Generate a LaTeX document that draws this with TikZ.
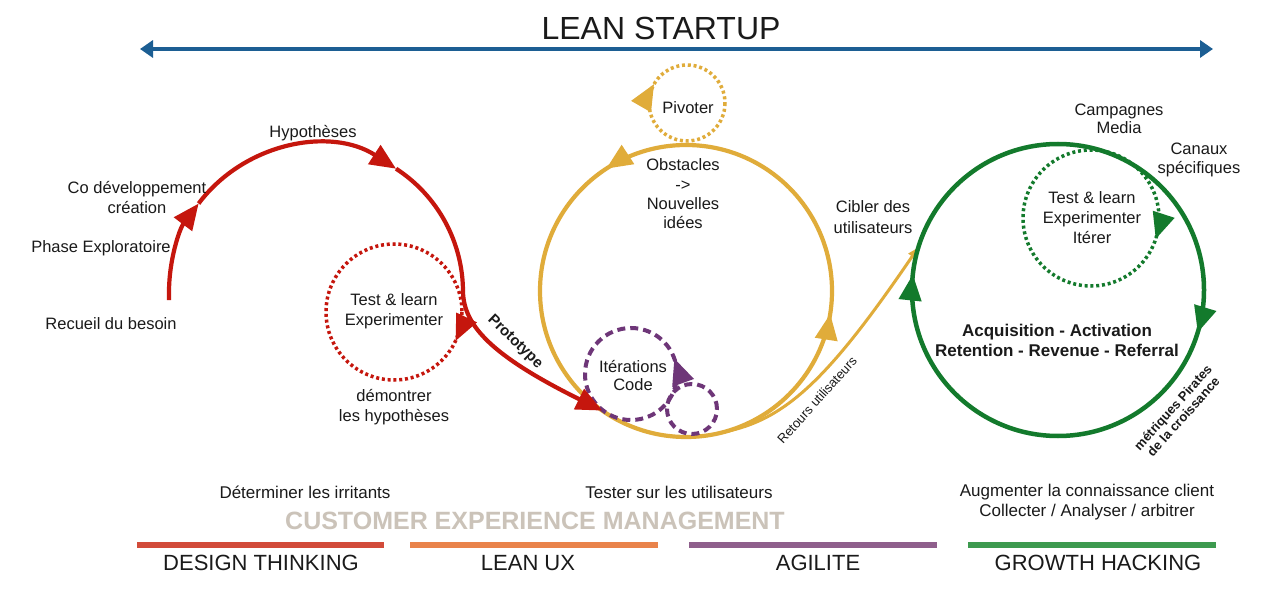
\documentclass[tikz,border=0pt]{standalone}
\usepackage{fontspec}
\setmainfont{Liberation Sans}
\usetikzlibrary{arrows.meta,decorations.markings}
\definecolor{cRed}{RGB}{197,22,13}
\definecolor{cYel}{RGB}{224,172,58}
\definecolor{cGrn}{RGB}{19,122,44}
\definecolor{cPur}{RGB}{110,54,120}
\definecolor{cBlue}{RGB}{28,94,147}
\definecolor{cTxt}{RGB}{26,26,26}
\definecolor{cGrey}{RGB}{203,195,185}
\definecolor{bRed}{RGB}{210,75,58}
\definecolor{bOra}{RGB}{233,131,75}
\definecolor{bPur}{RGB}{143,95,140}
\definecolor{bGrn}{RGB}{61,154,79}
\tikzset{
  Tri/.tip={Triangle[length=26pt,width=22pt]},
  lbl/.style={inner sep=0pt, align=center, text=cTxt, font=\fontsize{16.5}{20}\selectfont},
  boldlbl/.style={lbl, font=\fontsize{17}{20}\selectfont\bfseries},
  biglbl/.style={inner sep=0pt, text=cTxt, font=\fontsize{22}{26}\selectfont},
  mainline/.style={line width=4.2pt},
  dotline/.style={line width=3.5pt, dash pattern=on 3pt off 2.8pt},
  dashline/.style={line width=4pt, dash pattern=on 8pt off 5pt},
  arrowat/.style={postaction={solid, decorate, decoration={markings, mark=at position #1 with {\arrow{Tri}}}}},
  bar/.style={line width=6pt},
}
\begin{document}
\begin{tikzpicture}[x=1pt,y=1pt]
\useasboundingbox (0,0) rectangle (1285,-604);
\fill[white] (0,0) rectangle (1285,-604);

% ---- title and top arrow
\node[inner sep=0pt, text=cTxt, font=\fontsize{32}{38}\selectfont] (title) at (661,-28) {LEAN STARTUP};
\coordinate (tl) at (140,-49);
\coordinate (tr) at (1213,-49);
\draw[cBlue, line width=4pt, {Triangle[length=13pt,width=17pt]}-{Triangle[length=13pt,width=17pt]}] (tl) -- (tr);

% ---- centres
\coordinate (rC) at (316,-292);
\coordinate (R2) at (394,-312);
\coordinate (Y) at (686,-291);
\coordinate (Pv) at (687,-103);
\coordinate (P1) at (631,-374);
\coordinate (P2) at (692,-409);
\coordinate (G) at (1058,-290);
\coordinate (G2) at (1091,-218);
\coordinate (rS) at (169,-300);
\coordinate (yIn) at ([shift={(235:146)}]Y);
\coordinate (yOut) at ([shift={(285:146)}]Y);
\coordinate (gIn) at ([shift={(163:146)}]G);

% ---- yellow section
\draw[cYel, mainline, arrowat=0.342, arrowat=0.975] ([shift={(0:146)}]Y) arc[start angle=0, end angle=360, radius=146];
\draw[cYel, dotline, arrowat=0.583] ([shift={(0:38)}]Pv) arc[start angle=0, end angle=-360, radius=38];
\draw[cYel, line width=3pt, -{Triangle[length=11pt,width=9pt]}] (yOut) .. controls (785,-420) and (828,-380) .. (gIn);

% ---- purple
\draw[cPur, dashline, arrowat=0.055] ([shift={(0:46)}]P1) arc[start angle=0, end angle=360, radius=46];
\draw[cPur, dashline] (P2) circle[radius=25];

% ---- red section
\draw[cRed, mainline, -Tri] (rS) -- (169,-292) arc[start angle=180, end angle=143, radius=147];
\draw[cRed, mainline, -Tri] ([shift={(143:147)}]rC) arc[start angle=143, end angle=57, radius=147];
\draw[cRed, mainline, -Tri] ([shift={(57:147)}]rC) arc[start angle=57, end angle=0, radius=147] .. controls (464,-325) and (490,-355) .. (yIn);
\draw[cRed, dotline, arrowat=0.07] ([shift={(0:68)}]R2) arc[start angle=0, end angle=-360, radius=68];

% ---- green section
\draw[cGrn, line width=4.5pt, arrowat=0.047, arrowat=0.517] ([shift={(0:146)}]G) arc[start angle=0, end angle=-360, radius=146];
\draw[cGrn, dotline, arrowat=0.05] ([shift={(0:68)}]G2) arc[start angle=0, end angle=-360, radius=68];

% ---- labels red
\node[lbl] (hyp) at (313,-133) {Hypothèses};
\node[lbl] (codev) at (137,-198) {Co développement\\création};
\node[lbl] (phase) at (101,-248) {Phase Exploratoire};
\node[lbl] (recueil) at (111,-324) {Recueil du besoin};
\node[lbl] (test1) at (394,-311) {Test \& learn\\Experimenter};
\node[lbl] (demo) at (394,-407) {démontrer\\les hypothèses};
\node[lbl, font=\fontsize{15}{18}\selectfont\bfseries, rotate=-44] (proto) at (515,-342) {Prototype};

% ---- labels yellow
\node[lbl] (pivot) at (688,-108) {Pivoter};
\node[lbl, font=\fontsize{16.5}{19.3}\selectfont] (obst) at (683,-194) {Obstacles\\->\\Nouvelles\\idées};
\node[lbl, font=\fontsize{16.5}{18}\selectfont] (iter) at (633,-376) {Itérations\\Code};
\node[lbl, font=\fontsize{16.5}{21}\selectfont] (cibler) at (873,-217) {Cibler des\\utilisateurs};
\node[lbl, font=\fontsize{13}{15}\selectfont, rotate=48] (retours) at (817,-400) {Retours utilisateurs};

% ---- labels green
\node[lbl, font=\fontsize{16.5}{18}\selectfont] (camp) at (1119,-119) {Campagnes\\Media};
\node[lbl, font=\fontsize{16.5}{19}\selectfont] (canaux) at (1199,-160) {Canaux\\spécifiques};
\node[lbl] (test2) at (1092,-218) {Test \& learn\\Experimenter\\Itérer};
\node[boldlbl] (aarrr) at (1057,-340) {Acquisition - Activation\\Retention - Revenue - Referral};
\node[lbl, font=\fontsize{13}{14}\selectfont\bfseries, rotate=48] (metr) at (1178,-412) {métriques Pirates\\de la croissance};

% ---- bottom
\node[lbl, font=\fontsize{17}{20}\selectfont] (det) at (305,-492) {Déterminer les irritants};
\node[lbl, font=\fontsize{17}{20}\selectfont] (tester) at (679,-492) {Tester sur les utilisateurs};
\node[lbl, font=\fontsize{17}{20}\selectfont] (augm) at (1087,-502) {Augmenter la connaissance client\\Collecter / Analyser / arbitrer};
\node[inner sep=0pt, text=cGrey, font=\fontsize{25}{30}\selectfont\bfseries] (cem) at (535,-521) {CUSTOMER EXPERIENCE MANAGEMENT};

\coordinate (b1a) at (137,-545); \coordinate (b1b) at (384,-545);
\coordinate (b2a) at (410,-545); \coordinate (b2b) at (658,-545);
\coordinate (b3a) at (689,-545); \coordinate (b3b) at (937,-545);
\coordinate (b4a) at (968,-545); \coordinate (b4b) at (1216,-545);
\draw[bRed, bar] (b1a) -- (b1b);
\draw[bOra, bar] (b2a) -- (b2b);
\draw[bPur, bar] (b3a) -- (b3b);
\draw[bGrn, bar] (b4a) -- (b4b);

\node[biglbl] (dt) at (261,-563) {DESIGN THINKING};
\node[biglbl] (lux) at (528,-563) {LEAN UX};
\node[biglbl] (agil) at (818,-563) {AGILITE};
\node[biglbl] (grow) at (1098,-563) {GROWTH HACKING};
\end{tikzpicture}
\end{document}
